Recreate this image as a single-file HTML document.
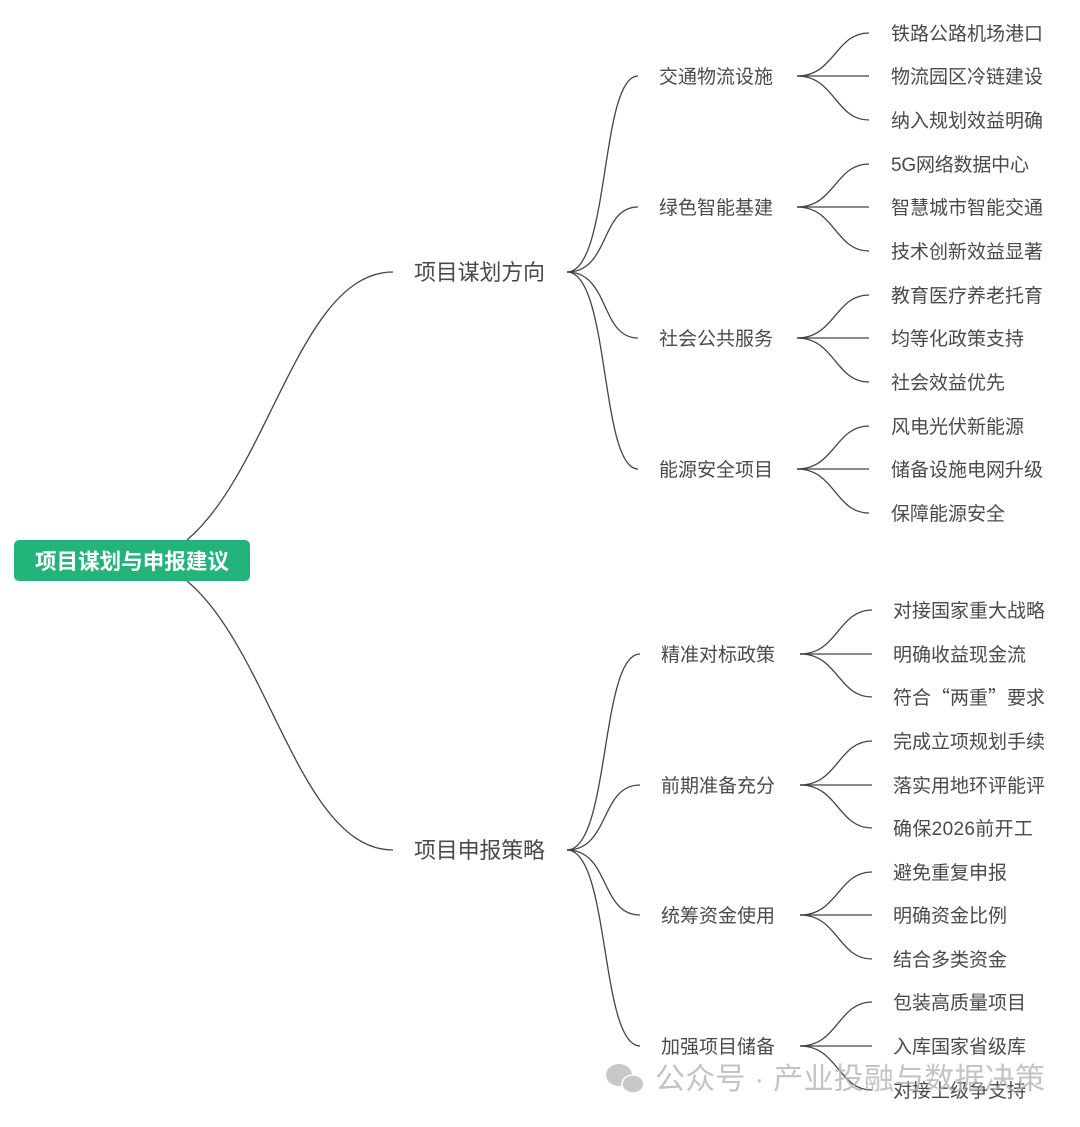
<!DOCTYPE html>
<html><head><meta charset="utf-8"><style>
body{margin:0;background:#fff}
svg text{font-family:"Liberation Sans","Noto Sans CJK SC",sans-serif;fill:#4a4a4a}
</style></head><body>
<svg width="1080" height="1122" viewBox="0 0 1080 1122" xmlns="http://www.w3.org/2000/svg">
<g fill="none" stroke="#444" stroke-width="1.3">
<path d="M187 540 C270 470 300 272 393 272"/>
<path d="M187 581 C270 650 300 850 393 850"/>
<path d="M567 272 C610 272 600 76 638 76"/>
<path d="M567 272 C610 272 600 207 638 207"/>
<path d="M567 272 C610 272 600 338 638 338"/>
<path d="M567 272 C610 272 600 469 638 469"/>
<path d="M567 850 C610 850 600 654 640 654"/>
<path d="M567 850 C610 850 600 785 640 785"/>
<path d="M567 850 C610 850 600 915 640 915"/>
<path d="M567 850 C610 850 600 1046 640 1046"/>
<path d="M797 76 C835 76 835 33 869 33"/><path d="M797 76 L869 76"/><path d="M797 76 C835 76 835 120 869 120"/>
<path d="M797 207 C835 207 835 164 869 164"/><path d="M797 207 L869 207"/><path d="M797 207 C835 207 835 251 869 251"/>
<path d="M797 338 C835 338 835 295 869 295"/><path d="M797 338 L869 338"/><path d="M797 338 C835 338 835 382 869 382"/>
<path d="M797 469 C835 469 835 426 869 426"/><path d="M797 469 L869 469"/><path d="M797 469 C835 469 835 513 869 513"/>
<path d="M800 654 C838 654 838 610 872 610"/><path d="M800 654 L872 654"/><path d="M800 654 C838 654 838 697 872 697"/>
<path d="M800 785 C838 785 838 741 872 741"/><path d="M800 785 L872 785"/><path d="M800 785 C838 785 838 828 872 828"/>
<path d="M800 915 C838 915 838 872 872 872"/><path d="M800 915 L872 915"/><path d="M800 915 C838 915 838 959 872 959"/>
<path d="M800 1046 C838 1046 838 1002 872 1002"/><path d="M800 1046 L872 1046"/><path d="M800 1046 C838 1046 838 1090 872 1090"/>
</g>
<rect x="14" y="540" width="236" height="41" rx="5" fill="#22b47a"/>
<text x="35" y="569" textLength="194" font-size="21.5" font-weight="bold" style="fill:#fff">项目谋划与申报建议</text>
<g font-size="22">
<text x="414" y="280" textLength="131">项目谋划方向</text>
<text x="414" y="858" textLength="131">项目申报策略</text>
</g>
<g font-size="19">
<text x="659" y="83" textLength="114">交通物流设施</text>
<text x="659" y="214" textLength="114">绿色智能基建</text>
<text x="659" y="345" textLength="114">社会公共服务</text>
<text x="659" y="476" textLength="114">能源安全项目</text>
<text x="661" y="661" textLength="114">精准对标政策</text>
<text x="661" y="792" textLength="114">前期准备充分</text>
<text x="661" y="922" textLength="114">统筹资金使用</text>
<text x="661" y="1053" textLength="114">加强项目储备</text>
<text x="891" y="40" textLength="152">铁路公路机场港口</text>
<text x="891" y="83" textLength="152">物流园区冷链建设</text>
<text x="891" y="127" textLength="152">纳入规划效益明确</text>
<text x="891" y="171" textLength="138">5G网络数据中心</text>
<text x="891" y="214" textLength="152">智慧城市智能交通</text>
<text x="891" y="258" textLength="152">技术创新效益显著</text>
<text x="891" y="302" textLength="152">教育医疗养老托育</text>
<text x="891" y="345" textLength="133">均等化政策支持</text>
<text x="891" y="389" textLength="114">社会效益优先</text>
<text x="891" y="433" textLength="133">风电光伏新能源</text>
<text x="891" y="476" textLength="152">储备设施电网升级</text>
<text x="891" y="520" textLength="114">保障能源安全</text>
<text x="893" y="617" textLength="152">对接国家重大战略</text>
<text x="893" y="661" textLength="133">明确收益现金流</text>
<text x="893" y="704" style="font-family:'Noto Sans CJK SC',sans-serif">符合“两重”要求</text>
<text x="893" y="748" textLength="152">完成立项规划手续</text>
<text x="893" y="792" textLength="152">落实用地环评能评</text>
<text x="893" y="835" textLength="140">确保2026前开工</text>
<text x="893" y="879" textLength="114">避免重复申报</text>
<text x="893" y="922" textLength="114">明确资金比例</text>
<text x="893" y="966" textLength="114">结合多类资金</text>
<text x="893" y="1009" textLength="133">包装高质量项目</text>
<text x="893" y="1053" textLength="133">入库国家省级库</text>
<text x="893" y="1097" textLength="133">对接上级争支持</text>
</g>
<g opacity="0.8">
<ellipse cx="619" cy="1075" rx="13" ry="11" fill="#bbb"/>
<ellipse cx="633" cy="1084" rx="11" ry="9" fill="#bbb" stroke="#fff" stroke-width="1.5"/>
<text x="655" y="1089" font-size="30" textLength="390" style="fill:#b5b5b5">公众号 · 产业投融与数据决策</text>
</g>
</svg>
</body></html>
